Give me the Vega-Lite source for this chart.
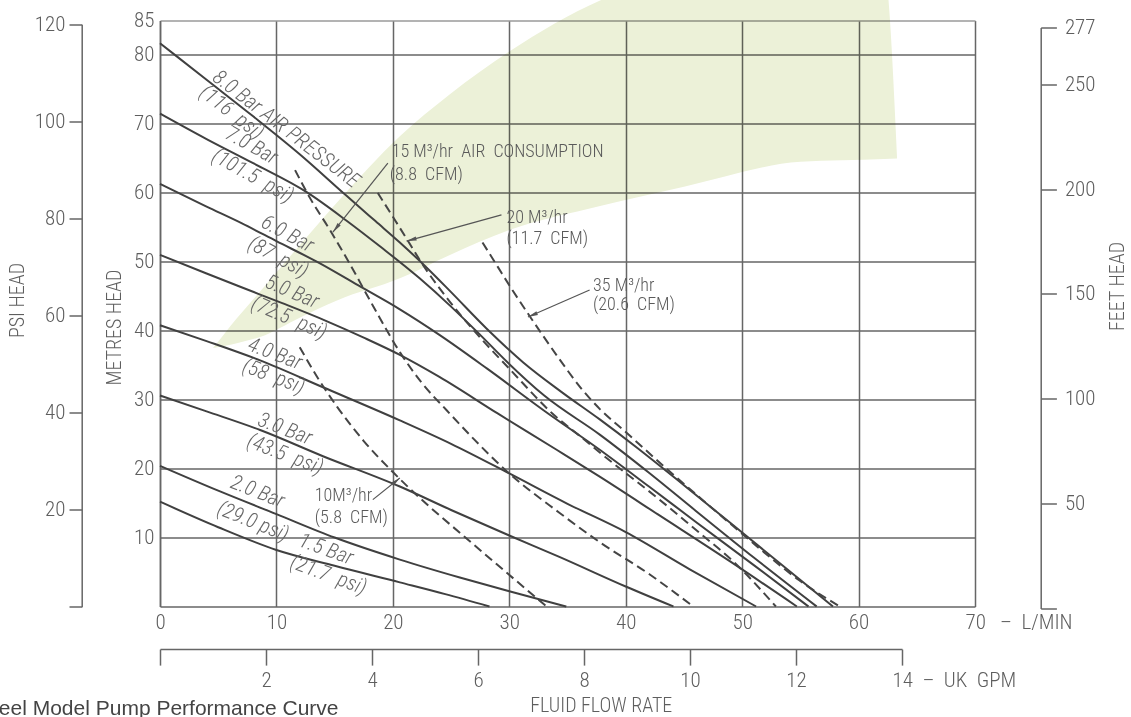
{
  "$schema": "https://vega.github.io/schema/vega-lite/v6.json",
  "width": 815,
  "height": 586,
  "autosize": {"type": "none"},
  "padding": {"left": 160, "top": 20.5, "right": 156, "bottom": 110.5},
  "background": "#ffffff",
  "title": {
    "text": "Steel Model Pump Performance Curve",
    "orient": "bottom",
    "anchor": "start",
    "frame": "group",
    "font": "Liberation Sans, Arial, sans-serif",
    "fontSize": 21,
    "fontWeight": "normal",
    "color": "#444444",
    "baseline": "alphabetic",
    "offset": 0,
    "dx": -181,
    "dy": 0
  },
  "config": {
    "view": {"stroke": null},
    "axis": {
      "labelFont": "Liberation Sans Narrow, Roboto Condensed, DejaVu Sans Condensed, sans-serif",
      "titleFont": "Liberation Sans Narrow, Roboto Condensed, DejaVu Sans Condensed, sans-serif",
      "labelColor": "#5e5e5e",
      "titleColor": "#5e5e5e",
      "labelFontSize": 21,
      "labelFontWeight": 300,
      "titleFontSize": 20,
      "titleFontWeight": 300,
      "domainColor": "#666666",
      "domainWidth": 1.5,
      "tickColor": "#666666",
      "tickWidth": 1.5,
      "gridColor": "#666666",
      "gridWidth": 1.5,
      "gridOpacity": 1,
      "labelOverlap": false,
      "labelFlush": false,
      "labelBound": false
    }
  },
  "datasets": {
    "green": [
      {"flow": 4.55, "top": 37.5, "bottom": 37.5},
      {"flow": 5.5, "top": 39.5, "bottom": 37.8},
      {"flow": 6.6, "top": 41.8, "bottom": 38.2},
      {"flow": 8.6, "top": 45.7, "bottom": 39.1},
      {"flow": 12.0, "top": 52.4, "bottom": 41.9},
      {"flow": 15.2, "top": 58.6, "bottom": 44.4},
      {"flow": 20.6, "top": 68.2, "bottom": 47.6},
      {"flow": 24.9, "top": 74.3, "bottom": 51.0},
      {"flow": 30.0, "top": 80.5, "bottom": 54.6},
      {"flow": 37.8, "top": 87.9, "bottom": 58.1},
      {"flow": 45.0, "top": 92.0, "bottom": 60.9},
      {"flow": 55.0, "top": 92.0, "bottom": 64.5},
      {"flow": 62.2, "top": 92.0, "bottom": 64.9},
      {"flow": 63.3, "top": 65.2, "bottom": 65.0}
    ],
    "pressure": [
      {"curve": "8.0", "flow": 0, "head": 81.7}, {"curve": "8.0", "flow": 4, "head": 76.4}, {"curve": "8.0", "flow": 8, "head": 71.1}, {"curve": "8.0", "flow": 12, "head": 65.6}, {"curve": "8.0", "flow": 16, "head": 59.6}, {"curve": "8.0", "flow": 18.5, "head": 55.9}, {"curve": "8.0", "flow": 20.6, "head": 52.8}, {"curve": "8.0", "flow": 23, "head": 49.0}, {"curve": "8.0", "flow": 25, "head": 45.6}, {"curve": "8.0", "flow": 28, "head": 40.4}, {"curve": "8.0", "flow": 31.2, "head": 35.4}, {"curve": "8.0", "flow": 34.5, "head": 31.1}, {"curve": "8.0", "flow": 37.8, "head": 27.1}, {"curve": "8.0", "flow": 41, "head": 23.0}, {"curve": "8.0", "flow": 45, "head": 17.6}, {"curve": "8.0", "flow": 49, "head": 12.1}, {"curve": "8.0", "flow": 53, "head": 6.6}, {"curve": "8.0", "flow": 57.8, "head": 0},
      {"curve": "7.0", "flow": 0, "head": 71.5}, {"curve": "7.0", "flow": 4, "head": 67.8}, {"curve": "7.0", "flow": 8, "head": 64.3}, {"curve": "7.0", "flow": 12.6, "head": 60.1}, {"curve": "7.0", "flow": 16, "head": 56.0}, {"curve": "7.0", "flow": 19, "head": 52.1}, {"curve": "7.0", "flow": 22.3, "head": 47.6}, {"curve": "7.0", "flow": 25, "head": 43.5}, {"curve": "7.0", "flow": 27.5, "head": 39.4}, {"curve": "7.0", "flow": 29.8, "head": 35.5}, {"curve": "7.0", "flow": 33, "head": 30.6}, {"curve": "7.0", "flow": 37.8, "head": 24.9}, {"curve": "7.0", "flow": 42, "head": 19.4}, {"curve": "7.0", "flow": 46, "head": 13.9}, {"curve": "7.0", "flow": 51, "head": 7.1}, {"curve": "7.0", "flow": 56.4, "head": 0},
      {"curve": "6.0", "flow": 0, "head": 61.3}, {"curve": "6.0", "flow": 4, "head": 58.0}, {"curve": "6.0", "flow": 7, "head": 55.6}, {"curve": "6.0", "flow": 10, "head": 53.0}, {"curve": "6.0", "flow": 13.7, "head": 49.8}, {"curve": "6.0", "flow": 17, "head": 46.6}, {"curve": "6.0", "flow": 20.6, "head": 43.1}, {"curve": "6.0", "flow": 24, "head": 39.4}, {"curve": "6.0", "flow": 28.1, "head": 34.5}, {"curve": "6.0", "flow": 33, "head": 28.4}, {"curve": "6.0", "flow": 37.8, "head": 22.7}, {"curve": "6.0", "flow": 42, "head": 17.4}, {"curve": "6.0", "flow": 46, "head": 12.3}, {"curve": "6.0", "flow": 51, "head": 6.0}, {"curve": "6.0", "flow": 55.7, "head": 0},
      {"curve": "5.0", "flow": 0, "head": 51.0}, {"curve": "5.0", "flow": 4, "head": 48.3}, {"curve": "5.0", "flow": 7, "head": 46.3}, {"curve": "5.0", "flow": 10.5, "head": 44.0}, {"curve": "5.0", "flow": 14.3, "head": 41.4}, {"curve": "5.0", "flow": 17.5, "head": 39.0}, {"curve": "5.0", "flow": 20.6, "head": 36.5}, {"curve": "5.0", "flow": 24, "head": 33.3}, {"curve": "5.0", "flow": 29, "head": 28.0}, {"curve": "5.0", "flow": 34.1, "head": 22.7}, {"curve": "5.0", "flow": 37.8, "head": 18.8}, {"curve": "5.0", "flow": 43, "head": 13.1}, {"curve": "5.0", "flow": 49, "head": 6.5}, {"curve": "5.0", "flow": 54.7, "head": 0},
      {"curve": "4.0", "flow": 0, "head": 40.8}, {"curve": "4.0", "flow": 4, "head": 38.5}, {"curve": "4.0", "flow": 8.6, "head": 35.7}, {"curve": "4.0", "flow": 14, "head": 31.8}, {"curve": "4.0", "flow": 20.6, "head": 27.0}, {"curve": "4.0", "flow": 25, "head": 23.6}, {"curve": "4.0", "flow": 30, "head": 19.3}, {"curve": "4.0", "flow": 35, "head": 14.9}, {"curve": "4.0", "flow": 40, "head": 10.8}, {"curve": "4.0", "flow": 45.5, "head": 5.4}, {"curve": "4.0", "flow": 51.2, "head": 0},
      {"curve": "3.0", "flow": 0, "head": 30.6}, {"curve": "3.0", "flow": 4, "head": 28.3}, {"curve": "3.0", "flow": 8.6, "head": 25.6}, {"curve": "3.0", "flow": 14, "head": 21.8}, {"curve": "3.0", "flow": 20.6, "head": 17.4}, {"curve": "3.0", "flow": 25, "head": 14.0}, {"curve": "3.0", "flow": 30, "head": 10.3}, {"curve": "3.0", "flow": 34.3, "head": 7.2}, {"curve": "3.0", "flow": 40, "head": 2.9}, {"curve": "3.0", "flow": 44.1, "head": 0},
      {"curve": "2.0", "flow": 0, "head": 20.4}, {"curve": "2.0", "flow": 5, "head": 16.8}, {"curve": "2.0", "flow": 10, "head": 13.4}, {"curve": "2.0", "flow": 15, "head": 10.0}, {"curve": "2.0", "flow": 20.6, "head": 6.8}, {"curve": "2.0", "flow": 25.75, "head": 4.2}, {"curve": "2.0", "flow": 30, "head": 2.2}, {"curve": "2.0", "flow": 34.9, "head": 0},
      {"curve": "1.5", "flow": 0, "head": 15.2}, {"curve": "1.5", "flow": 5, "head": 11.5}, {"curve": "1.5", "flow": 10, "head": 8.2}, {"curve": "1.5", "flow": 15, "head": 5.9}, {"curve": "1.5", "flow": 20.6, "head": 3.5}, {"curve": "1.5", "flow": 24.5, "head": 1.8}, {"curve": "1.5", "flow": 28.3, "head": 0}
    ],
    "air": [
      {"curve": "10", "flow": 12.0, "head": 37.6}, {"curve": "10", "flow": 13.5, "head": 33.3}, {"curve": "10", "flow": 15.2, "head": 29.0}, {"curve": "10", "flow": 17.5, "head": 24.0}, {"curve": "10", "flow": 20.0, "head": 19.5}, {"curve": "10", "flow": 22.8, "head": 15.0}, {"curve": "10", "flow": 25.75, "head": 10.7}, {"curve": "10", "flow": 29.5, "head": 5.3}, {"curve": "10", "flow": 33.2, "head": 0},
      {"curve": "15", "flow": 11.6, "head": 63.3}, {"curve": "15", "flow": 12.9, "head": 59.2}, {"curve": "15", "flow": 14.6, "head": 54.6}, {"curve": "15", "flow": 16.1, "head": 50.3}, {"curve": "15", "flow": 18.3, "head": 43.6}, {"curve": "15", "flow": 20.6, "head": 36.9}, {"curve": "15", "flow": 22.5, "head": 32.4}, {"curve": "15", "flow": 24.6, "head": 28.5}, {"curve": "15", "flow": 27, "head": 24.2}, {"curve": "15", "flow": 29.8, "head": 19.6}, {"curve": "15", "flow": 34.3, "head": 13.6}, {"curve": "15", "flow": 37.8, "head": 9.3}, {"curve": "15", "flow": 42.1, "head": 4.6}, {"curve": "15", "flow": 45.8, "head": 0},
      {"curve": "20", "flow": 18.7, "head": 60.0}, {"curve": "20", "flow": 20.2, "head": 56.0}, {"curve": "20", "flow": 21.2, "head": 53.3}, {"curve": "20", "flow": 22.6, "head": 49.5}, {"curve": "20", "flow": 24.9, "head": 44.2}, {"curve": "20", "flow": 27.5, "head": 39.0}, {"curve": "20", "flow": 30, "head": 34.5}, {"curve": "20", "flow": 33.7, "head": 28.0}, {"curve": "20", "flow": 36.3, "head": 24.4}, {"curve": "20", "flow": 37.8, "head": 22.3}, {"curve": "20", "flow": 42.9, "head": 15.5}, {"curve": "20", "flow": 46.4, "head": 10.6}, {"curve": "20", "flow": 49.2, "head": 6.6}, {"curve": "20", "flow": 52.9, "head": 0},
      {"curve": "35", "flow": 27.7, "head": 52.8}, {"curve": "35", "flow": 29, "head": 49.3}, {"curve": "35", "flow": 30, "head": 46.6}, {"curve": "35", "flow": 31.8, "head": 42.0}, {"curve": "35", "flow": 34.3, "head": 35.9}, {"curve": "35", "flow": 36.1, "head": 31.8}, {"curve": "35", "flow": 37.8, "head": 28.6}, {"curve": "35", "flow": 40, "head": 25.3}, {"curve": "35", "flow": 43.5, "head": 20.0}, {"curve": "35", "flow": 46.5, "head": 15.6}, {"curve": "35", "flow": 49.2, "head": 11.7}, {"curve": "35", "flow": 52, "head": 7.7}, {"curve": "35", "flow": 54.9, "head": 3.8}, {"curve": "35", "flow": 58.4, "head": 0}
    ],
    "curveLabels": [
      {"curve": "8.0", "text": "8.0 Bar AIR PRESSURE", "flow": 10.82, "head": 69.2},
      {"curve": "8.0", "text": "(116\u00a0\u00a0psi)", "flow": 6.14, "head": 71.6},
      {"curve": "7.0", "text": "7.0 Bar", "flow": 7.85, "head": 66.8},
      {"curve": "7.0", "text": "(101.5\u00a0\u00a0psi)", "flow": 7.94, "head": 62.4},
      {"curve": "6.0", "text": "6.0 Bar", "flow": 10.94, "head": 54.0},
      {"curve": "6.0", "text": "(87\u00a0\u00a0psi)", "flow": 10.13, "head": 50.6},
      {"curve": "5.0", "text": "5.0 Bar", "flow": 11.33, "head": 45.6},
      {"curve": "5.0", "text": "(72.5\u00a0\u00a0psi)", "flow": 11.07, "head": 41.8},
      {"curve": "4.0", "text": "4.0 Bar", "flow": 9.87, "head": 36.6},
      {"curve": "4.0", "text": "(58\u00a0\u00a0psi)", "flow": 9.74, "head": 33.3},
      {"curve": "3.0", "text": "3.0 Bar", "flow": 10.73, "head": 25.7},
      {"curve": "3.0", "text": "(43.5\u00a0\u00a0psi)", "flow": 10.73, "head": 22.0},
      {"curve": "2.0", "text": "2.0 Bar", "flow": 8.37, "head": 16.6},
      {"curve": "2.0", "text": "(29.0 psi)", "flow": 7.98, "head": 12.25},
      {"curve": "1.5", "text": "1.5 Bar", "flow": 14.25, "head": 8.25},
      {"curve": "1.5", "text": "(21.7\u00a0\u00a0psi)", "flow": 14.46, "head": 4.5}
    ],
    "airLabels": [
      {"text": "15 M³/hr\u00a0\u00a0AIR\u00a0\u00a0CONSUMPTION", "flow": 19.9, "head": 65.9},
      {"text": "(8.8\u00a0\u00a0CFM)", "flow": 19.74, "head": 62.6},
      {"text": "20 M³/hr", "flow": 29.75, "head": 56.4},
      {"text": "(11.7\u00a0\u00a0CFM)", "flow": 29.75, "head": 53.3},
      {"text": "35 M³/hr", "flow": 37.2, "head": 46.5},
      {"text": "(20.6\u00a0\u00a0CFM)", "flow": 37.2, "head": 43.7},
      {"text": "10M³/hr", "flow": 13.3, "head": 16.05},
      {"text": "(5.8\u00a0\u00a0CFM)", "flow": 13.3, "head": 12.9}
    ],
    "arrows": [
      {"id": "a15", "x1": 19.57, "y1": 64.3, "x2": 14.85, "y2": 54.3},
      {"id": "a20", "x1": 29.33, "y1": 56.8, "x2": 21.18, "y2": 53.0},
      {"id": "a35", "x1": 36.9, "y1": 45.9, "x2": 31.6, "y2": 42.0},
      {"id": "a10", "x1": 18.28, "y1": 15.5, "x2": 20.6, "y2": 18.65}
    ],
    "psi": [{"psi": 0}, {"psi": 120}],
    "feet": [{"feet": 0}, {"feet": 277}],
    "gpm": [{"gpm": 0}, {"gpm": 14}]
  },
  "layer": [
    {
      "resolve": {"scale": {"angle": "independent"}},
      "layer": [
        {
          "data": {"name": "green"},
          "mark": {"type": "area", "color": "#ecf1d8", "interpolate": "monotone", "blend": "multiply"},
          "encoding": {
            "x": {
              "field": "flow", "type": "quantitative",
              "scale": {"domain": [0, 70], "nice": false, "zero": false},
              "axis": {
                "title": null,
                "orient": "bottom",
                "values": [0, 10, 20, 30, 40, 50, 60, 70],
                "grid": true,
                "ticks": false,
                "domain": true,
                "labelPadding": 5,
                "labelExpr": "datum.value == 70 ? '70\u00a0\u00a0\u00a0–\u00a0\u00a0L/MIN' : datum.label",
                "labelAlign": {"condition": {"test": "datum.value == 70", "value": "left"}, "value": "center"},
                "labelOffset": {"condition": {"test": "datum.value == 70", "value": -10}, "value": 0}
              }
            },
            "y": {
              "field": "top", "type": "quantitative",
              "scale": {"domain": [0, 85], "nice": false, "zero": false},
              "axis": {
                "title": "METRES HEAD",
                "orient": "left",
                "values": [10, 20, 30, 40, 50, 60, 70, 80, 85],
                "grid": true,
                "ticks": false,
                "domain": true,
                "labelPadding": 6,
                "titleX": -45.5,
                "titleY": 306.5,
                "titleAngle": 270,
                "titleAlign": "center",
                "titleBaseline": "middle",
                "gridColor": {"condition": {"test": "datum.value == 85", "value": "#9a9a9a"}, "value": "#666666"}
              }
            },
            "y2": {"field": "bottom"}
          }
        },
        {
          "data": {"name": "pressure"},
          "mark": {"type": "line", "color": "#404040", "strokeWidth": 2, "interpolate": "monotone"},
          "encoding": {
            "x": {"field": "flow", "type": "quantitative", "scale": {"domain": [0, 70], "nice": false, "zero": false}},
            "y": {"field": "head", "type": "quantitative", "scale": {"domain": [0, 85], "nice": false, "zero": false}},
            "detail": {"field": "curve"}
          }
        },
        {
          "data": {"name": "air"},
          "mark": {"type": "line", "color": "#454545", "strokeWidth": 2, "strokeDash": [9, 5], "interpolate": "monotone"},
          "encoding": {
            "x": {"field": "flow", "type": "quantitative", "scale": {"domain": [0, 70], "nice": false, "zero": false}},
            "y": {"field": "head", "type": "quantitative", "scale": {"domain": [0, 85], "nice": false, "zero": false}},
            "detail": {"field": "curve"}
          }
        },
        {
          "data": {"name": "arrows"},
          "mark": {"type": "rule", "color": "#555555", "strokeWidth": 1.2},
          "encoding": {
            "x": {"field": "x1", "type": "quantitative", "scale": {"domain": [0, 70], "nice": false, "zero": false}},
            "y": {"field": "y1", "type": "quantitative", "scale": {"domain": [0, 85], "nice": false, "zero": false}},
            "x2": {"field": "x2"},
            "y2": {"field": "y2"}
          }
        },
        {
          "data": {"name": "arrows"},
          "mark": {"type": "point", "shape": "M0,0L0.5,2.5L-0.5,2.5Z", "filled": true, "color": "#555555", "size": 64, "opacity": 1},
          "encoding": {
            "x": {"field": "x2", "type": "quantitative", "scale": {"domain": [0, 70], "nice": false, "zero": false}},
            "y": {"field": "y2", "type": "quantitative", "scale": {"domain": [0, 85], "nice": false, "zero": false}},
            "angle": {
              "field": "id", "type": "nominal",
              "scale": {"type": "ordinal", "domain": ["a15", "a20", "a35", "a10"], "range": [218.6, 254.9, 247.7, 50]},
              "legend": null
            }
          }
        },
        {
          "data": {"name": "curveLabels"},
          "mark": {"type": "text", "font": "Liberation Sans Narrow, Roboto Condensed, DejaVu Sans Condensed, sans-serif", "fontSize": 21, "fontWeight": 300, "fontStyle": "italic", "color": "#666666", "align": "center", "baseline": "middle"},
          "encoding": {
            "x": {"field": "flow", "type": "quantitative", "scale": {"domain": [0, 70], "nice": false, "zero": false}},
            "y": {"field": "head", "type": "quantitative", "scale": {"domain": [0, 85], "nice": false, "zero": false}},
            "text": {"field": "text"},
            "angle": {
              "field": "curve", "type": "nominal",
              "scale": {"type": "ordinal", "domain": ["8.0", "7.0", "6.0", "5.0", "4.0", "3.0", "2.0", "1.5"], "range": [37.5, 29, 28, 23, 21, 21, 22, 20]},
              "legend": null
            }
          }
        },
        {
          "data": {"name": "airLabels"},
          "mark": {"type": "text", "font": "Liberation Sans Narrow, Roboto Condensed, DejaVu Sans Condensed, sans-serif", "fontSize": 18, "fontWeight": 300, "color": "#5a5a5a", "align": "left", "baseline": "middle"},
          "encoding": {
            "x": {"field": "flow", "type": "quantitative", "scale": {"domain": [0, 70], "nice": false, "zero": false}},
            "y": {"field": "head", "type": "quantitative", "scale": {"domain": [0, 85], "nice": false, "zero": false}},
            "text": {"field": "text"}
          }
        }
      ]
    },
    {
      "data": {"name": "psi"},
      "mark": {"type": "point", "opacity": 0},
      "encoding": {
        "y": {
          "field": "psi", "type": "quantitative",
          "scale": {"domain": [0, 120], "range": [586.2, 3.8], "nice": false},
          "axis": {
            "orient": "left",
            "offset": 78.3,
            "title": "PSI HEAD",
            "values": [0, 20, 40, 60, 80, 100, 120],
            "labelExpr": "datum.value == 0 ? '' : datum.label",
            "tickSize": 12.7,
            "labelPadding": 4,
            "grid": false,
            "titleX": -64.2,
            "titleY": 279.5,
            "titleAngle": 270,
            "titleAlign": "center",
            "titleBaseline": "middle"
          }
        }
      }
    },
    {
      "data": {"name": "feet"},
      "mark": {"type": "point", "opacity": 0},
      "encoding": {
        "y": {
          "field": "feet", "type": "quantitative",
          "scale": {"domain": [0, 277], "range": [588, 7], "nice": false},
          "axis": {
            "orient": "right",
            "offset": 65.7,
            "title": "FEET HEAD",
            "values": [0, 50, 100, 150, 200, 250, 277],
            "labelExpr": "datum.value == 0 ? '' : datum.label",
            "tickSize": 15.7,
            "labelPadding": 8,
            "grid": false,
            "titleX": 77,
            "titleY": 265.5,
            "titleAngle": 270,
            "titleAlign": "center",
            "titleBaseline": "middle"
          }
        }
      }
    },
    {
      "data": {"name": "gpm"},
      "mark": {"type": "point", "opacity": 0},
      "encoding": {
        "x": {
          "field": "gpm", "type": "quantitative",
          "scale": {"domain": [0, 14], "range": [0, 742], "nice": false},
          "axis": {
            "orient": "bottom",
            "offset": 42.6,
            "title": "FLUID FLOW RATE",
            "values": [0, 2, 4, 6, 8, 10, 12, 14],
            "labelExpr": "datum.value == 0 ? '' : datum.value == 14 ? '14\u00a0\u00a0–\u00a0\u00a0UK\u00a0\u00a0GPM' : datum.label",
            "labelAlign": {"condition": {"test": "datum.value == 14", "value": "left"}, "value": "center"},
            "labelOffset": {"condition": {"test": "datum.value == 14", "value": -10}, "value": 0},
            "tickSize": 16,
            "labelPadding": 4,
            "grid": false,
            "titleX": 440.8,
            "titleY": 56,
            "titleAlign": "center",
            "titleBaseline": "middle"
          }
        }
      }
    }
  ],
  "resolve": {"scale": {"x": "independent", "y": "independent"}}
}
